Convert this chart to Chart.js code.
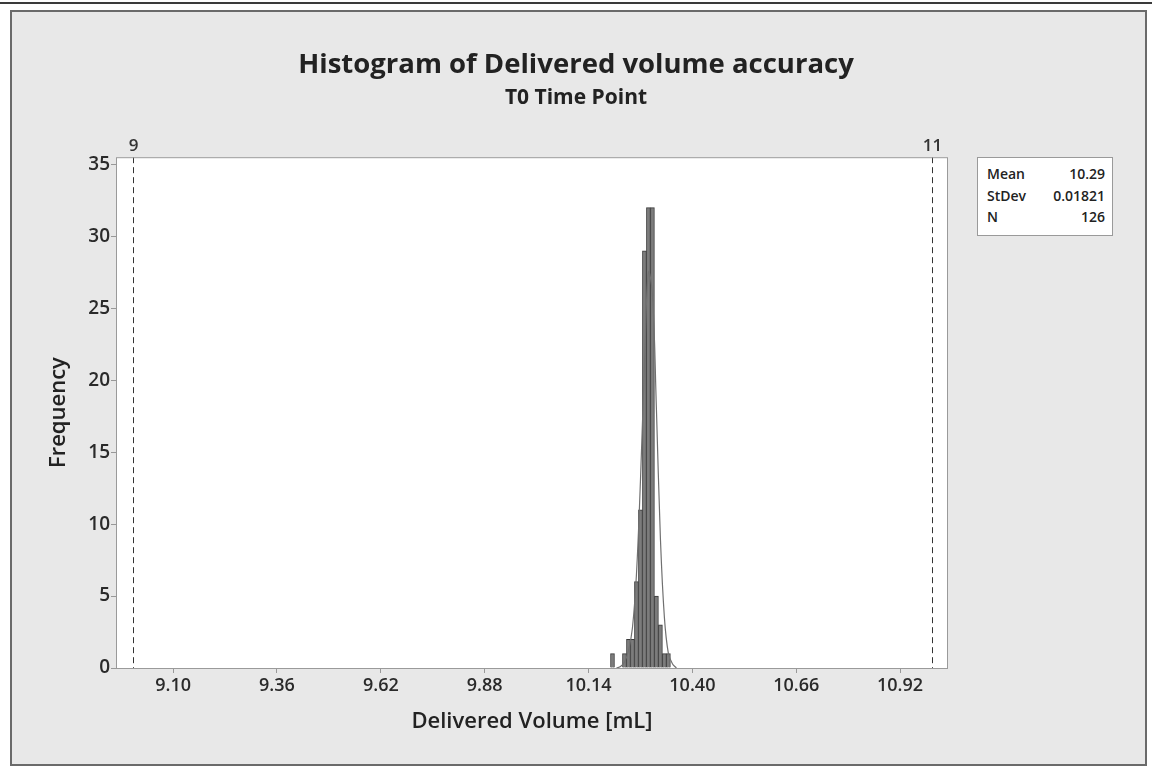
<!DOCTYPE html>
<html>
<head>
<meta charset="utf-8">
<script src="https://cdn.jsdelivr.net/npm/chart.js@4/dist/chart.umd.min.js"></script>
<style>
  html, body { margin: 0; padding: 0; background: #fff; }
  body { width: 1152px; height: 767px; position: relative; overflow: hidden; font-family: "Open Sans", "Noto Sans", sans-serif; }
  #topline { position: absolute; left: 0; top: 2px; width: 1152px; height: 2px; background: #3a3a3a; }
  #panel { position: absolute; left: 10px; top: 10px; width: 1137px; height: 756px; background: #e8e8e8; border: 2px solid #6a6a6a; box-sizing: border-box; }
  #wrap { position: absolute; left: 0; top: 0; width: 1152px; height: 767px; }
  #stats { position: absolute; left: 977px; top: 157px; width: 136px; height: 79px; background: #fff; border: 1px solid #9a9a9a; box-sizing: border-box; padding: 5px 7px 0 9px; font-size: 14px; font-weight: 600; color: #222; line-height: 21.5px; }
  #stats div { display: flex; justify-content: space-between; }
</style>
</head>
<body>
<div id="topline"></div>
<div id="panel"></div>
<div id="wrap"><canvas id="myChart" width="1152" height="767"></canvas></div>
<div id="stats"></div>
<script>
// Datos del histograma
var binCenters = [10.20, 10.21, 10.22, 10.23, 10.24, 10.25, 10.26, 10.27, 10.28, 10.29, 10.30, 10.31, 10.32, 10.33, 10.34];
var binCounts  = [1, 0, 0, 1, 2, 2, 6, 11, 29, 32, 32, 5, 3, 1, 1];
// Curva normal ajustada (estimada de la imagen)
var curveX = [10.21, 10.22, 10.23, 10.24, 10.25, 10.26, 10.27, 10.28, 10.29, 10.30, 10.31, 10.32, 10.33, 10.34, 10.35, 10.36];
var curveY = [0, 0.1, 0.4, 1.2, 2.8, 6.5, 13, 21, 27.5, 26, 18, 9, 3.5, 1, 0.3, 0];
// Ejes
var xTicks = [9.10, 9.36, 9.62, 9.88, 10.14, 10.40, 10.66, 10.92];
var yTicks = [0, 5, 10, 15, 20, 25, 30, 35];
var specLimits = [9, 11];
var specLabels = ['9', '11'];
// Estadísticas
var statLabels = ['Mean', 'StDev', 'N'];
var statValues = ['10.29', '0.01821', '126'];

document.getElementById('stats').innerHTML = statLabels.map(function (l, i) {
  return '<div><span>' + l + '</span><span>' + statValues[i] + '</span></div>';
}).join('');

var fontFam = '"Open Sans", "Noto Sans", sans-serif';

// Fondo blanco del área, marco y límites de especificación
var plotDecor = {
  id: 'plotDecor',
  beforeDraw: function (chart) {
    var a = chart.chartArea, c = chart.ctx;
    c.save();
    c.fillStyle = '#fff';
    c.fillRect(a.left, a.top, a.right - a.left, a.bottom - a.top);
    c.restore();
  },
  beforeDatasetsDraw: function (chart) {
    var a = chart.chartArea, c = chart.ctx, x = chart.scales.x;
    c.save();
    c.strokeStyle = '#333';
    c.lineWidth = 1;
    c.fillStyle = '#333';
    c.font = '600 17px ' + fontFam;
    c.textAlign = 'center';
    c.textBaseline = 'bottom';
    specLimits.forEach(function (v, i) {
      var px = Math.round(x.getPixelForValue(v)) + 0.5;
      c.setLineDash([6, 4]);
      c.beginPath();
      c.moveTo(px, a.top);
      c.lineTo(px, a.bottom);
      c.stroke();
      c.setLineDash([]);
      c.fillText(specLabels[i], px, a.top - 3);
    });
    c.restore();
  },
  afterDraw: function (chart) {
    var a = chart.chartArea, c = chart.ctx;
    c.save();
    c.strokeStyle = '#9a9a9a';
    c.lineWidth = 1;
    c.strokeRect(a.left + 0.5, a.top + 0.5, a.right - a.left - 1, a.bottom - a.top);
    c.restore();
  }
};

var ctx = document.getElementById('myChart').getContext('2d');
var myChart = new Chart(ctx, {
  type: 'bar',
  data: {
    datasets: [{
      type: 'line',
      data: curveX.map(function (v, i) { return { x: v, y: curveY[i] }; }),
      borderColor: '#707070',
      borderWidth: 1.2,
      pointRadius: 0,
      tension: 0.4,
      fill: false,
      order: 0
    }, {
      type: 'bar',
      data: binCenters.map(function (v, i) { return { x: v, y: binCounts[i] }; }),
      backgroundColor: '#7c7c7c',
      borderColor: '#3a3a3a',
      borderWidth: 1,
      barPercentage: 1,
      categoryPercentage: 1,
      order: 1
    }]
  },
  options: {
    responsive: false,
    animation: false,
    layout: { padding: { left: 0, right: 0, top: 49, bottom: 29 } },
    plugins: {
      legend: { display: false },
      tooltip: { enabled: false },
      title: {
        display: true,
        text: 'Histogram of Delivered volume accuracy',
        color: '#222',
        font: { family: fontFam, size: 27.5, weight: 'bold' },
        padding: { top: 0, bottom: 3 }
      },
      subtitle: {
        display: true,
        text: 'T0 Time Point',
        color: '#222',
        font: { family: fontFam, size: 21, weight: '700' },
        padding: { top: 0, bottom: 47 }
      }
    },
    scales: {
      x: {
        type: 'linear',
        offset: false,
        min: 8.957,
        max: 11.04,
        afterBuildTicks: function (s) { s.ticks = xTicks.map(function (v) { return { value: v }; }); },
        afterFit: function (s) { s.height = 70; },
        ticks: {
          color: '#2a2a2a',
          font: { family: fontFam, size: 18, weight: '600' },
          padding: 2,
          maxRotation: 0,
          callback: function (v) { return Number(v).toFixed(2); }
        },
        grid: { display: true, offset: false, drawOnChartArea: false, tickLength: 5, color: '#999' },
        border: { display: false },
        title: {
          display: true,
          text: 'Delivered Volume [mL]',
          color: '#222',
          font: { family: fontFam, size: 22, weight: '600' },
          padding: { top: 0, bottom: 3 }
        }
      },
      y: {
        min: 0,
        max: 35.5,
        afterBuildTicks: function (s) { s.ticks = yTicks.map(function (v) { return { value: v }; }); },
        afterFit: function (s) { s.width = 116; },
        ticks: {
          color: '#2a2a2a',
          font: { family: fontFam, size: 19, weight: '600' },
          padding: 1
        },
        grid: { display: true, drawOnChartArea: false, tickLength: 5, color: '#999' },
        border: { display: false },
        title: {
          display: true,
          text: 'Frequency',
          color: '#222',
          font: { family: fontFam, size: 22, weight: '600' },
          padding: { top: 46, bottom: 0 }
        }
      },
      y2: {
        position: 'right',
        display: true,
        afterFit: function (s) { s.width = 204; },
        ticks: { display: false },
        grid: { display: false },
        border: { display: false }
      }
    }
  },
  plugins: [plotDecor]
});
</script>
</body>
</html>
